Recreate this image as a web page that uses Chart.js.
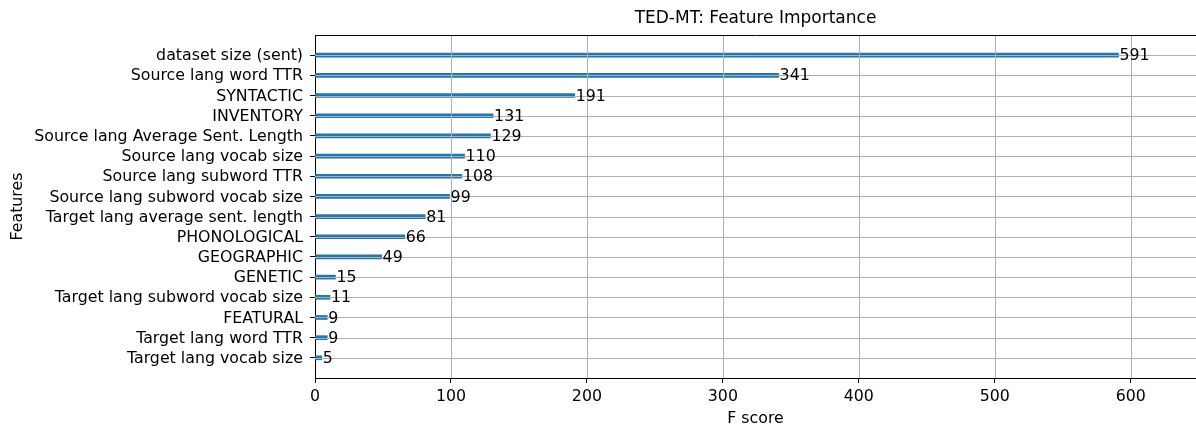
<!DOCTYPE html>
<html>
<head>
<meta charset="utf-8">
<script src="https://cdn.jsdelivr.net/npm/chart.js@4/dist/chart.umd.min.js"></script>
<style>
html,body{margin:0;padding:0;background:#fff;}
#wrap{width:1196px;height:430px;}
</style>
</head>
<body>
<div id="wrap"><canvas id="c" width="1196" height="430"></canvas></div>
<script>
const chartTitle = 'TED-MT: Feature Importance';
const features = [
  'dataset size (sent)',
  'Source lang word TTR',
  'SYNTACTIC',
  'INVENTORY',
  'Source lang Average Sent. Length',
  'Source lang vocab size',
  'Source lang subword TTR',
  'Source lang subword vocab size',
  'Target lang average sent. length',
  'PHONOLOGICAL',
  'GEOGRAPHIC',
  'GENETIC',
  'Target lang subword vocab size',
  'FEATURAL',
  'Target lang word TTR',
  'Target lang vocab size'
];
const scores = [591, 341, 191, 131, 129, 110, 108, 99, 81, 66, 49, 15, 11, 9, 9, 5];
const xTicks = [0, 100, 200, 300, 400, 500, 600];
const xMax = 648;

const FONT = "'DejaVu Sans', sans-serif";
const FS = 15.8;
const labels = [''].concat(features, ['']);
const values = [null].concat(scores, [null]);

const overlay = {
  id: 'overlay',
  afterDatasetsDraw(chart) {
    const ctx = chart.ctx;
    const a = chart.chartArea;
    const xs = chart.scales.x, ys = chart.scales.y;
    ctx.save();
    ctx.strokeStyle = '#b0b0b0';
    ctx.lineWidth = 1;
    xTicks.forEach(t => {
      if (t === 0) return;
      const x = Math.round(xs.getPixelForValue(t)) + 0.5;
      ctx.beginPath(); ctx.moveTo(x, a.top); ctx.lineTo(x, a.bottom); ctx.stroke();
    });
    features.forEach((f, i) => {
      const y = Math.round(ys.getPixelForValue(i + 1)) + 0.5;
      ctx.beginPath(); ctx.moveTo(a.left, y); ctx.lineTo(a.right, y); ctx.stroke();
    });
    // data labels
    ctx.fillStyle = '#000';
    ctx.font = FS + 'px ' + FONT;
    ctx.textAlign = 'left';
    ctx.textBaseline = 'middle';
    scores.forEach((v, i) => {
      const x = xs.getPixelForValue(v) + 1;
      const y = ys.getPixelForValue(i + 1);
      ctx.fillText(String(v), x, y + 1);
    });
    // top spine
    ctx.strokeStyle = '#000';
    ctx.lineWidth = 1;
    ctx.beginPath();
    ctx.moveTo(a.left, Math.round(a.top) + 0.5); ctx.lineTo(a.right, Math.round(a.top) + 0.5);
    ctx.stroke();
    // title
    ctx.font = '17px ' + FONT;
    ctx.textAlign = 'center';
    ctx.textBaseline = 'middle';
    ctx.fillText(chartTitle, (a.left + a.right) / 2, 19);
    ctx.restore();
  }
};

new Chart(document.getElementById('c'), {
  type: 'bar',
  data: {
    labels: labels,
    datasets: [{
      data: values,
      backgroundColor: '#1f77b4',
      borderWidth: 0,
      barThickness: 4
    }]
  },
  options: {
    indexAxis: 'y',
    responsive: false,
    animation: false,
    devicePixelRatio: 1,
    layout: { padding: { top: 35, right: 0, bottom: 0, left: 0 } },
    plugins: { legend: { display: false }, tooltip: { enabled: false }, title: { display: false } },
    scales: {
      x: {
        type: 'linear',
        min: 0,
        max: xMax,
        afterBuildTicks(scale) { scale.ticks = xTicks.map(v => ({ value: v })); },
        afterFit(scale) { scale.height = 52; },
        grid: { drawOnChartArea: false, drawTicks: true, tickLength: 5, tickColor: '#000', color: '#000' },
        border: { display: true, color: '#000', width: 1 },
        ticks: { color: '#000', font: { family: FONT, size: FS }, padding: 4, maxRotation: 0, autoSkip: false },
        title: { display: true, text: 'F score', color: '#000', font: { family: FONT, size: FS }, padding: { top: 0, bottom: 2 } }
      },
      y: {
        type: 'category',
        offset: false,
        afterFit(scale) { scale.width = 315; },
        grid: {
          offset: false,
          drawOnChartArea: false, drawTicks: true, tickLength: 5,
          tickColor: ctx => (ctx.index === 0 || ctx.index === labels.length - 1) ? 'rgba(0,0,0,0)' : '#000'
        },
        border: { display: true, color: '#000', width: 1 },
        ticks: { color: '#000', font: { family: FONT, size: FS }, padding: 7, labelOffset: 1, autoSkip: false },
        title: { display: true, text: 'Features', color: '#000', font: { family: FONT, size: FS }, padding: { top: 8, bottom: 0 } }
      }
    }
  },
  plugins: [overlay]
});
</script>
</body>
</html>
